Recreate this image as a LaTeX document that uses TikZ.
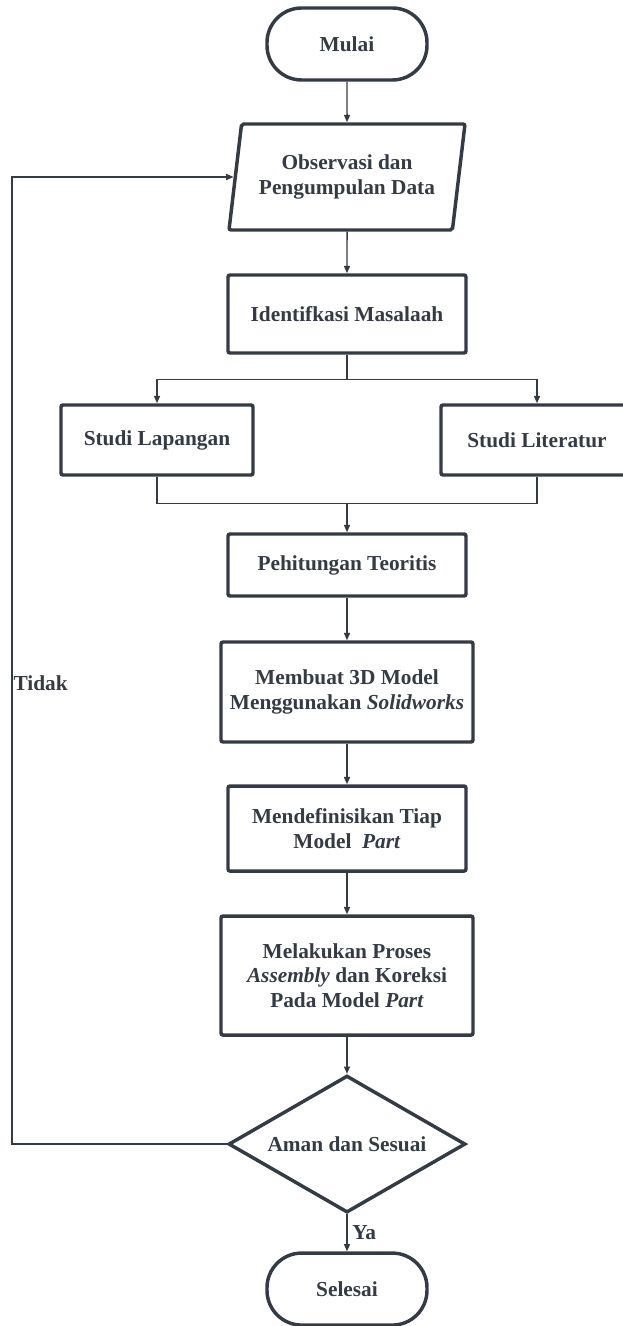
\documentclass[tikz,border=0pt]{standalone}
\usepackage{fontspec}
\setmainfont{Liberation Serif}
\usetikzlibrary{shapes.geometric,arrows.meta}
\definecolor{ink}{HTML}{353B44}

\begin{document}
\begin{tikzpicture}[>={Triangle[length=5.5pt,width=4.5pt]}]
   \tikzstyle{every node}=[font=\fontsize{16}{18.6}\selectfont\bfseries,text=ink,align=center,inner sep=1pt]
   \tikzstyle{box}=[draw=ink,line width=2.6pt,rounded corners=1.5pt,minimum width=178.5pt]
   \tikzstyle{widebox}=[box,minimum width=189pt]
   \tikzstyle{ends}=[draw=ink,line width=2.6pt,rounded corners=26pt,minimum width=120pt,minimum height=54pt]
   \tikzstyle{line}=[draw=ink,line width=1.1pt]

   \useasboundingbox (-260.25pt,33pt) rectangle (207pt,-961.5pt) ;

   \node (mulai) [ends] {Mulai} ;
   \node (obs) [trapezium,trapezium left angle=75,trapezium right angle=105,trapezium stretches body,draw=ink,line width=2.6pt,rounded corners=1.5pt,below of=mulai,node distance=99.75pt,minimum width=177pt,minimum height=79.5pt] {Observasi dan\\Pengumpulan Data} ;
   \node (ident) [box,below of=obs,node distance=102.75pt,minimum height=58.5pt] {Identifkasi Masalaah} ;

   \node (lap) [box,below of=ident,node distance=94.5pt,xshift=-142.5pt,minimum width=144pt,minimum height=52.5pt] {Studi Lapangan} ;
   \node (lit) [box,below of=ident,node distance=94.5pt,xshift=142.5pt,minimum width=144pt,minimum height=52.5pt] {Studi Literatur} ;

   \node (hit) [box,below of=ident,node distance=188.25pt,minimum height=46.5pt] {Pehitungan Teoritis} ;
   \node (model) [widebox,below of=hit,node distance=95.25pt,minimum height=75pt] {Membuat 3D Model\\Menggunakan \textit{Solidworks}} ;
   \node (def) [box,below of=model,node distance=102.4pt,minimum height=63.75pt] {Mendefinisikan Tiap\\Model\ \ \textit{Part}} ;
   \node (rakit) [widebox,below of=def,node distance=110.25pt,minimum height=89.25pt] {Melakukan Proses\\\textit{Assembly} dan Koreksi\\Pada Model \textit{Part}} ;
   \node (cek) [diamond,aspect=1.73,draw=ink,line width=2.6pt,inner sep=0pt,below of=rakit,node distance=126.4pt,minimum width=177.75pt,minimum height=102.75pt] {Aman dan Sesuai} ;
   \node (selesai) [ends,below of=cek,node distance=108.75pt] {Selesai} ;

   \coordinate (split) at ([yshift=-18.75pt]ident.south) ;
   \coordinate (merge) at ([yshift=21.75pt]hit.north) ;
   \coordinate (back) at (-251.25pt,0) ;

   \draw [line,->] (mulai.south) -- (obs.north) ;
   \draw [line,->] (obs.south) -- (ident.north) ;
   \draw [line] (ident.south) -- (split) ;
   \draw [line,->] (split) -| (lap.north) ;
   \draw [line,->] (split) -| (lit.north) ;
   \draw [line] (lap.south) |- (merge) ;
   \draw [line] (lit.south) |- (merge) ;
   \draw [line,->] (merge) -- (hit.north) ;
   \draw [line,->] (hit.south) -- (model.north) ;
   \draw [line,->] (model.south) -- (def.north) ;
   \draw [line,->] (def.south) -- (rakit.north) ;
   \draw [line,->] (rakit.south) -- (cek.north) ;
   \draw [line,->] (cek.south) -- node [right=2.5pt] {Ya} (selesai.north) ;
   \draw [line,->] (cek.west) -- (cek.west -| back) |- (obs.west) ;

   \node (tidak) [right] at (-251.25pt,-479.25pt) {Tidak} ;

\end{tikzpicture}
\end{document}
